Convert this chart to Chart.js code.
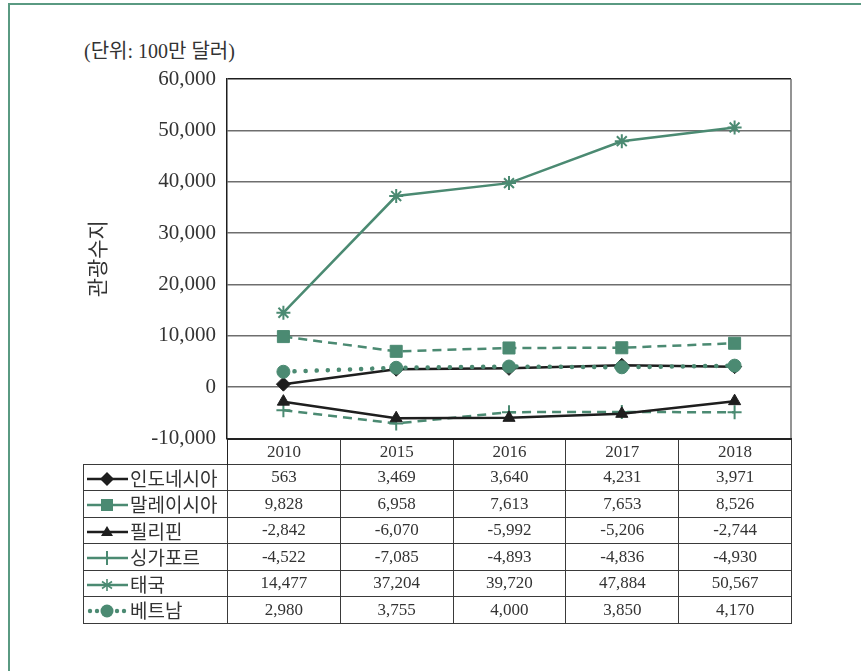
<!DOCTYPE html>
<html>
<head>
<meta charset="utf-8">
<script src="https://cdn.jsdelivr.net/npm/chart.js@4.4.1/dist/chart.umd.min.js"></script>
<style>
  html, body { margin: 0; padding: 0; background: #fff; }
  body { width: 861px; height: 671px; position: relative; overflow: hidden; }
  #frame { position: absolute; left: 8px; top: 3px; width: 900px; height: 700px;
           border-top: 2px solid #5a9a82; border-left: 2px solid #5a9a82; }
  #unit { position: absolute; left: 84px; top: 35px; font: 20px "Liberation Serif", "Noto Sans CJK KR", serif; color: #333; white-space: nowrap; }
  #wrap { position: absolute; left: 0; top: 0; width: 861px; height: 462px; }
  #tbl { position: absolute; left: 83px; top: 438px; border-collapse: collapse; table-layout: fixed;
         font: 17px "Liberation Serif", serif; color: #333; }
  #tbl td { border: 1.5px solid #3a3a3a; text-align: center; padding: 0; height: 25.5px; line-height: 20px; overflow: hidden; }
  #tbl tr.hdr td { height: 23.5px; border-top: 2px solid #222; }
  #tbl tr.hdr td.blank { border: none; border-right: 1.5px solid #222; }
  #tbl td.lab { text-align: left; white-space: nowrap; font: 19px/20px "Noto Sans CJK KR", sans-serif; color: #333; }
  #tbl td.lab svg { vertical-align: middle; margin-left: 2px; margin-right: 1px; }
  #tbl td.lab span { vertical-align: middle; position: relative; top: -1px; }
</style>
</head>
<body>
<div id="frame"></div>
<div id="unit">(단위: 100만 달러)</div>
<div id="wrap"><canvas id="c" width="861" height="462"></canvas></div>
<table id="tbl"></table>
<script>
// ---- data ----
const years = ['2010', '2015', '2016', '2017', '2018'];
const seriesNames = ['인도네시아', '말레이시아', '필리핀', '싱가포르', '태국', '베트남'];
const indonesia   = [563, 3469, 3640, 4231, 3971];
const malaysia    = [9828, 6958, 7613, 7653, 8526];
const philippines = [-2842, -6070, -5992, -5206, -2744];
const singapore   = [-4522, -7085, -4893, -4836, -4930];
const thailand    = [14477, 37204, 39720, 47884, 50567];
const vietnam     = [2980, 3755, 4000, 3850, 4170];
const yMin = -10000, yMax = 60000, yStep = 10000;
const unitLabel = '(단위: 100만 달러)';
const yTitle = '관광수지';

// ---- styles ----
const GREEN = '#4b8a72';
const BLACK = '#1e1e1e';
const values = [indonesia, malaysia, philippines, singapore, thailand, vietnam];
const styles = [
  { color: BLACK, point: 'rectRot', radius: 7, dash: [], width: 2.5, order: 2 },
  { color: GREEN, point: 'rect', radius: 8.5, dash: [9, 6], width: 2.5, order: 3 },
  { color: BLACK, point: 'triangle', radius: 7, dash: [], width: 2.5, order: 4 },
  { color: GREEN, point: 'cross', radius: 7, dash: [9, 6], width: 2.5, order: 5 },
  { color: GREEN, point: 'star', radius: 7, dash: [], width: 2.5, order: 6 },
  { color: GREEN, point: 'circle', radius: 6.5, dash: [0.1, 11], width: 4.5, order: 1, cap: 'round' }
];

const datasets = values.map((v, i) => {
  const s = styles[i];
  const filled = (s.point === 'rect' || s.point === 'rectRot' || s.point === 'triangle' || s.point === 'circle');
  return {
    label: seriesNames[i],
    data: v,
    borderColor: s.color,
    backgroundColor: s.color,
    borderWidth: s.width,
    borderDash: s.dash,
    borderCapStyle: s.cap || 'butt',
    pointStyle: s.point,
    pointRadius: s.radius,
    pointBackgroundColor: s.color,
    pointBorderColor: s.color,
    pointBorderWidth: filled ? 1 : 2,
    tension: 0,
    fill: false,
    order: s.order
  };
});

const borderPlugin = {
  id: 'rightBorder',
  afterDatasetsDraw(chart) {
    const { ctx, chartArea } = chart;
    ctx.save();
    ctx.strokeStyle = '#707070';
    ctx.lineWidth = 1.5;
    ctx.beginPath();
    ctx.moveTo(chartArea.right, chartArea.top);
    ctx.lineTo(chartArea.right, chartArea.bottom);
    ctx.stroke();
    ctx.restore();
  }
};

document.getElementById('unit').textContent = unitLabel;

new Chart(document.getElementById('c'), {
  type: 'line',
  data: { labels: years, datasets },
  plugins: [borderPlugin],
  options: {
    responsive: false,
    animation: false,
    devicePixelRatio: 1,
    layout: { padding: { left: 0, top: 79, right: 70, bottom: 18 } },
    plugins: { legend: { display: false }, tooltip: { enabled: false } },
    scales: {
      x: { type: 'category', display: false, offset: true },
      y: {
        min: yMin, max: yMax,
        afterFit: s => { s.width = 227; },
        border: { display: true, color: BLACK, width: 1.5 },
        grid: {
          drawTicks: false,
          lineWidth: 1.5,
          color: c => (c.tick && (c.tick.value === yMax || c.tick.value === yMin)) ? BLACK : '#6e6e6e'
        },
        ticks: {
          stepSize: yStep,
          padding: 11,
          color: '#333',
          font: { family: '"Liberation Serif", serif', size: 21 },
          callback: v => v.toLocaleString('en-US')
        },
        title: {
          display: true,
          text: yTitle,
          color: '#333',
          font: { family: '"Noto Sans CJK KR", sans-serif', size: 21 },
          padding: { top: 84, bottom: 0 }
        }
      }
    }
  }
});

// ---- data table ----
function markerSvg(i) {
  const s = styles[i];
  const c = s.color;
  let line = '';
  if (i === 5) {
    line = `<circle cx="4" cy="9" r="2.2" fill="${c}"/><circle cx="11" cy="9" r="2.2" fill="${c}"/>` +
           `<circle cx="31" cy="9" r="2.2" fill="${c}"/><circle cx="38" cy="9" r="2.2" fill="${c}"/>`;
  } else {
    line = `<line x1="1" y1="9" x2="42" y2="9" stroke="${c}" stroke-width="2.5"/>`;
  }
  let m = '';
  const cx = 21, cy = 9;
  if (s.point === 'rectRot') m = `<polygon points="${cx},${cy-7} ${cx+7},${cy} ${cx},${cy+7} ${cx-7},${cy}" fill="${c}"/>`;
  if (s.point === 'rect') m = `<rect x="${cx-6}" y="${cy-6}" width="12" height="12" fill="${c}"/>`;
  if (s.point === 'triangle') m = `<polygon points="${cx},${cy-6} ${cx+6},${cy+4} ${cx-6},${cy+4}" fill="${c}"/>`;
  if (s.point === 'cross') m = `<line x1="${cx}" y1="${cy-7}" x2="${cx}" y2="${cy+7}" stroke="${c}" stroke-width="2"/>`;
  if (s.point === 'star') m = `<g stroke="${c}" stroke-width="1.6"><line x1="${cx}" y1="${cy-6}" x2="${cx}" y2="${cy+6}"/><line x1="${cx-5}" y1="${cy-3.5}" x2="${cx+5}" y2="${cy+3.5}"/><line x1="${cx-5}" y1="${cy+3.5}" x2="${cx+5}" y2="${cy-3.5}"/></g>`;
  if (s.point === 'circle') m = `<circle cx="${cx}" cy="${cy}" r="6.5" fill="${c}"/>`;
  return `<svg width="43" height="18" viewBox="0 0 43 18">${line}${m}</svg>`;
}

const tbl = document.getElementById('tbl');
let html = '<colgroup><col style="width:144px">' + years.map(() => '<col style="width:112.8px">').join('') + '</colgroup>';
html += '<tr class="hdr"><td class="blank"></td>' + years.map(y => `<td>${y}</td>`).join('') + '</tr>';
values.forEach((v, i) => {
  html += `<tr><td class="lab">${markerSvg(i)}<span>${seriesNames[i]}</span></td>` +
          v.map(x => `<td>${x.toLocaleString('en-US')}</td>`).join('') + '</tr>';
});
tbl.innerHTML = html;
</script>
</body>
</html>
